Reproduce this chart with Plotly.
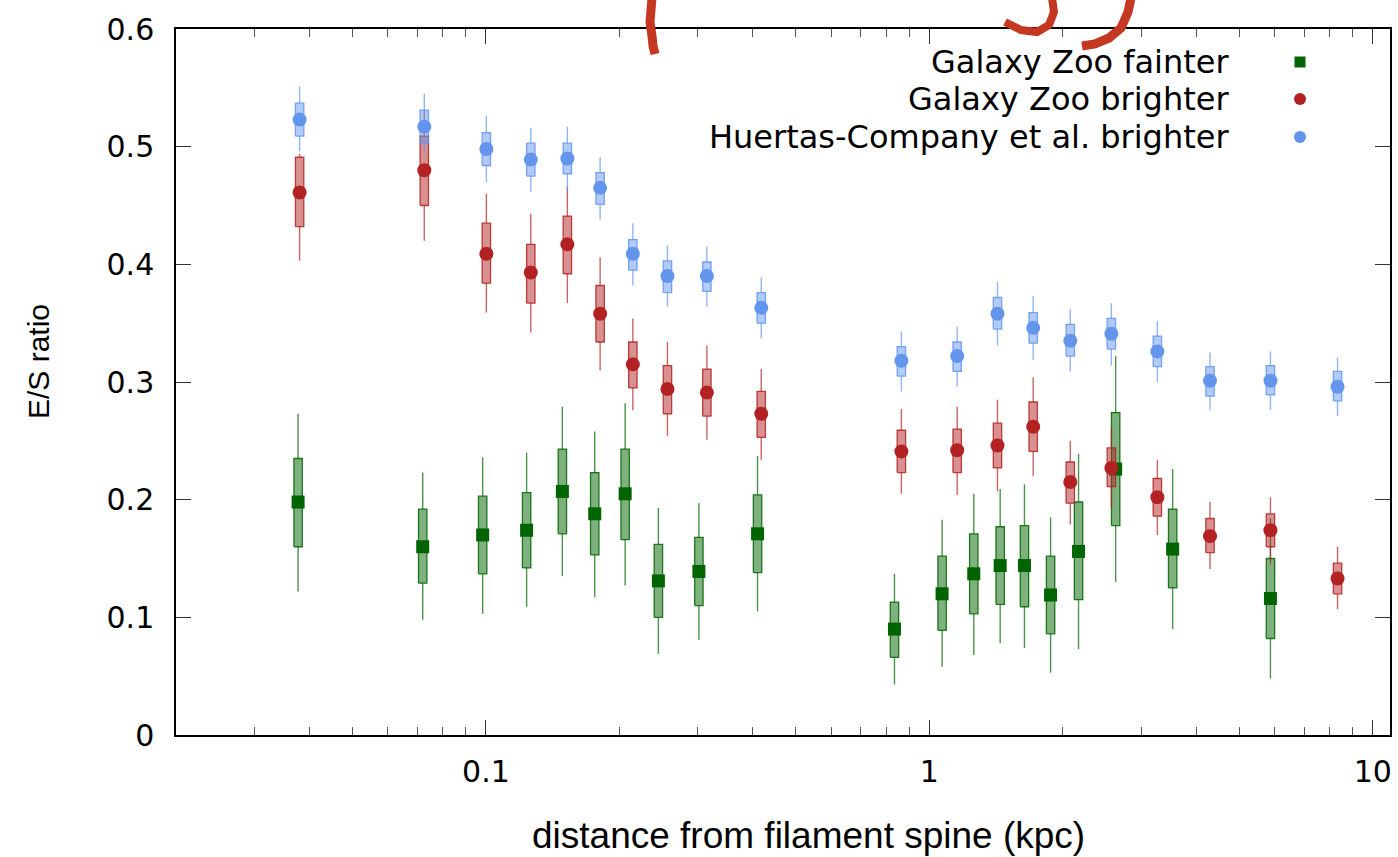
import math
import plotly.graph_objects as go

# ---------------- data ----------------
x_green = [0.0377, 0.0720, 0.0983, 0.1235, 0.1487, 0.1759, 0.2060, 0.2448, 0.3021, 0.4097,
           0.834, 1.068, 1.259, 1.444, 1.638, 1.876, 2.169, 2.630, 3.536, 5.875]
y_green = [0.198, 0.160, 0.170, 0.174, 0.207, 0.188, 0.205, 0.131, 0.139, 0.171,
           0.090, 0.120, 0.137, 0.144, 0.144, 0.119, 0.156, 0.226, 0.158, 0.116]
box_hi_green = [0.235, 0.192, 0.203, 0.206, 0.243, 0.223, 0.243, 0.162, 0.168, 0.204,
                0.113, 0.152, 0.171, 0.177, 0.178, 0.152, 0.198, 0.274, 0.192, 0.150]
box_lo_green = [0.160, 0.129, 0.137, 0.142, 0.171, 0.153, 0.166, 0.100, 0.110, 0.138,
                0.066, 0.089, 0.103, 0.111, 0.109, 0.086, 0.115, 0.178, 0.125, 0.082]
err_hi_green = [0.273, 0.223, 0.236, 0.240, 0.279, 0.258, 0.282, 0.193, 0.197, 0.237,
                0.137, 0.183, 0.205, 0.209, 0.213, 0.185, 0.239, 0.322, 0.226, 0.184]
err_lo_green = [0.122, 0.098, 0.103, 0.109, 0.135, 0.117, 0.127, 0.069, 0.081, 0.105,
                0.043, 0.058, 0.068, 0.078, 0.074, 0.053, 0.073, 0.130, 0.090, 0.048]

x_bright = [0.0380, 0.0726, 0.1002, 0.1262, 0.1526, 0.1809, 0.2144, 0.2566, 0.3149, 0.4176,
            0.8645, 1.155, 1.424, 1.714, 2.078, 2.572, 3.266, 4.293, 5.875, 8.324]

y_red = [0.461, 0.480, 0.409, 0.393, 0.417, 0.358, 0.315, 0.294, 0.291, 0.273,
         0.241, 0.242, 0.246, 0.262, 0.215, 0.227, 0.202, 0.169, 0.174, 0.133]
box_hi_red = [0.491, 0.509, 0.435, 0.417, 0.441, 0.382, 0.334, 0.314, 0.311, 0.292,
              0.259, 0.260, 0.265, 0.283, 0.232, 0.244, 0.218, 0.184, 0.188, 0.146]
box_lo_red = [0.432, 0.450, 0.384, 0.367, 0.392, 0.334, 0.295, 0.273, 0.271, 0.253,
              0.223, 0.223, 0.227, 0.241, 0.197, 0.211, 0.186, 0.155, 0.160, 0.120]
err_hi_red = [0.494, 0.531, 0.460, 0.443, 0.466, 0.406, 0.354, 0.334, 0.331, 0.311,
              0.277, 0.279, 0.285, 0.304, 0.250, 0.261, 0.234, 0.198, 0.202, 0.160]
err_lo_red = [0.403, 0.420, 0.359, 0.342, 0.367, 0.310, 0.276, 0.254, 0.251, 0.234,
              0.205, 0.204, 0.207, 0.220, 0.179, 0.193, 0.170, 0.141, 0.145, 0.107]

y_blue = [0.523, 0.517, 0.498, 0.489, 0.490, 0.465, 0.409, 0.390, 0.390, 0.363,
          0.318, 0.322, 0.358, 0.346, 0.335, 0.341, 0.326, 0.301, 0.301, 0.296]
box_hi_blue = [0.537, 0.531, 0.512, 0.503, 0.503, 0.478, 0.421, 0.403, 0.402, 0.376,
               0.330, 0.334, 0.372, 0.359, 0.349, 0.354, 0.339, 0.313, 0.314, 0.309]
box_lo_blue = [0.509, 0.503, 0.484, 0.475, 0.477, 0.451, 0.395, 0.376, 0.377, 0.350,
               0.305, 0.309, 0.345, 0.333, 0.322, 0.328, 0.313, 0.288, 0.289, 0.284]
err_hi_blue = [0.551, 0.545, 0.526, 0.516, 0.517, 0.491, 0.435, 0.416, 0.415, 0.389,
               0.343, 0.347, 0.385, 0.373, 0.362, 0.367, 0.352, 0.325, 0.326, 0.321]
err_lo_blue = [0.496, 0.494, 0.470, 0.462, 0.463, 0.438, 0.382, 0.364, 0.364, 0.337,
               0.292, 0.296, 0.331, 0.319, 0.309, 0.314, 0.300, 0.276, 0.276, 0.271]

series_names = ["Galaxy Zoo fainter", "Galaxy Zoo brighter", "Huertas-Company et al. brighter"]
x_title = "distance from filament spine (kpc)"
y_title = "E/S ratio"
x_tick_vals = [0.1, 1, 10]
x_tick_text = ["0.1", "1", "10"]
x_minor_vals = [0.02, 0.03, 0.04, 0.05, 0.06, 0.07, 0.08, 0.09,
                0.2, 0.3, 0.4, 0.5, 0.6, 0.7, 0.8, 0.9,
                2, 3, 4, 5, 6, 7, 8, 9]
y_tick_vals = [0, 0.1, 0.2, 0.3, 0.4, 0.5, 0.6]
y_tick_text = ["0", "0.1", "0.2", "0.3", "0.4", "0.5", "0.6"]

# ---------------- layout geometry ----------------
W, H = 1398, 857
ML, MR, MT, MB = 176, 8, 29, 122
PW, PH = W - ML - MR, H - MT - MB
X_RANGE = [math.log10(0.02), math.log10(10.93)]
DEC_PER_PX = (X_RANGE[1] - X_RANGE[0]) / PW
BOX_HALF_PX = 4.2
F = 10 ** (BOX_HALF_PX * DEC_PER_PX)


def pxx(px):
    return (px - ML) / PW


def pxy(py):
    return (MT + PH - py) / PH


def box_poly(xs, lo, hi):
    X, Y = [], []
    for x, l, h in zip(xs, lo, hi):
        xl, xr = x / F, x * F
        X += [xl, xr, xr, xl, xl, None]
        Y += [l, l, h, h, l, None]
    return X, Y


def whisker_segs(xs, elo, blo, bhi, ehi):
    X, Y = [], []
    for x, a, b, c, d in zip(xs, elo, blo, bhi, ehi):
        X += [x, x, None, x, x, None]
        Y += [a, b, None, c, d, None]
    return X, Y


fig = go.Figure()

specs = [
    (series_names[0], x_green, y_green, box_lo_green, box_hi_green, err_lo_green, err_hi_green,
     (0, 100, 0), "square", 13),
    (series_names[1], x_bright, y_red, box_lo_red, box_hi_red, err_lo_red, err_hi_red,
     (178, 34, 34), "circle", 14),
    (series_names[2], x_bright, y_blue, box_lo_blue, box_hi_blue, err_lo_blue, err_hi_blue,
     (100, 149, 237), "circle", 14),
]

for name, xs, ys, blo, bhi, elo, ehi, rgb, sym, msize in specs:
    r, g, b = rgb
    wx, wy = whisker_segs(xs, elo, blo, bhi, ehi)
    fig.add_trace(go.Scatter(x=wx, y=wy, mode="lines", showlegend=False, hoverinfo="skip",
                             line=dict(color=f"rgba({r},{g},{b},0.7)", width=1.4)))
    bx, by = box_poly(xs, blo, bhi)
    fig.add_trace(go.Scatter(x=bx, y=by, mode="lines", fill="toself", showlegend=False,
                             hoverinfo="skip", fillcolor=f"rgba({r},{g},{b},0.5)",
                             line=dict(color=f"rgba({r},{g},{b},0.85)", width=1.3)))
    fig.add_trace(go.Scatter(x=xs, y=ys, mode="markers", name=name, showlegend=False,
                             marker=dict(symbol=sym, size=msize, color=f"rgb({r},{g},{b})",
                                         line=dict(width=0))))

# ---------------- legend (text on the left, symbol on the right) ----------------
legend_rows_py = [62, 99, 137]
shapes = []
annotations = []
for (name, *_rest), row in zip(specs, legend_rows_py):
    rgb, sym = _rest[6], _rest[7]
    annotations.append(dict(text=name, x=pxx(1231), y=pxy(row), xref="paper", yref="paper",
                            xanchor="right", yanchor="middle", showarrow=False,
                            font=dict(family="DejaVu Sans", size=32, color="black")))
    half = 5.5 if sym == "square" else 6
    shapes.append(dict(type="rect" if sym == "square" else "circle",
                       xref="paper", yref="paper", xsizemode="pixel", ysizemode="pixel",
                       xanchor=pxx(1300), yanchor=pxy(row),
                       x0=-half, x1=half, y0=-half, y1=half,
                       fillcolor="rgb({},{},{})".format(*rgb), line=dict(width=0)))

# axis titles (placed where the reference has them)
annotations.append(dict(text=x_title, x=pxx(808), y=pxy(835), xref="paper", yref="paper",
                        xanchor="center", yanchor="middle", showarrow=False,
                        font=dict(family="Liberation Sans", size=37, color="black")))
annotations.append(dict(text=y_title, x=pxx(38), y=pxy(362), xref="paper", yref="paper",
                        xanchor="center", yanchor="middle", showarrow=False, textangle=-90,
                        font=dict(family="Liberation Sans", size=30, color="black")))

# ---------------- red hand-drawn marks at the top ----------------
scribbles = [
    ([(652, -2), (651, 10), (650, 22), (652, 36), (653, 46), (655, 54)], 9),
    ([(1052, -2), (1054, 12), (1049, 25), (1037, 32), (1021, 30), (1005, 22)], 8),
    ([(1131, -2), (1128, 12), (1121, 28), (1109, 38), (1095, 44), (1082, 46)], 9),
]
for pts, wdt in scribbles:
    path = "M " + " L ".join(f"{pxx(a):.5f},{pxy(b):.5f}" for a, b in pts)
    shapes.append(dict(type="path", path=path, xref="paper", yref="paper",
                       line=dict(color="rgb(196,56,34)", width=wdt)))

axis_common = dict(showline=True, linecolor="black", linewidth=1.5, mirror="ticks",
                   ticks="inside", ticklen=15, tickwidth=1.2, tickcolor="#333",
                   showgrid=False, zeroline=False,
                   tickfont=dict(family="DejaVu Sans", size=30, color="black"))

fig.update_layout(
    width=W, height=H,
    margin=dict(l=ML, r=MR, t=MT, b=MB, autoexpand=False),
    plot_bgcolor="white", paper_bgcolor="white",
    showlegend=False,
    xaxis=dict(type="log", range=X_RANGE, tickmode="array", tickvals=x_tick_vals,
               ticktext=x_tick_text, ticklabelstandoff=9,
               minor=dict(tickmode="array", tickvals=x_minor_vals, ticks="inside",
                          ticklen=8, tickwidth=1, tickcolor="#555"),
               **axis_common),
    yaxis=dict(range=[0, 0.6], tickmode="array", tickvals=y_tick_vals, ticktext=y_tick_text,
               ticklabelstandoff=14,
               **axis_common),
    shapes=shapes,
    annotations=annotations,
)

fig.write_html("out.html")
